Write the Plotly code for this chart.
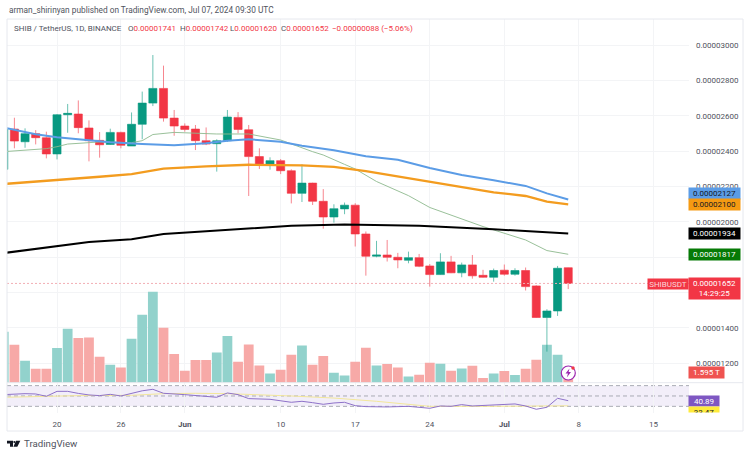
import pandas as pd
import plotly.graph_objects as go

W, H = 750, 455
SCALE = 1e-8
dates = pd.date_range("2024-05-15", "2024-07-07").strftime("%Y-%m-%d").tolist()

opens = [2298,2526,2454,2500,2477,2385,2607,2611,2532,2462,2439,2507,2430,2553,2673,2756,2588,
         2543,2526,2460,2443,2460,2592,2522,2370,2320,2347,2290,2162,2220,2117,2028,
         2074,2095,1932,1806,1813,1800,1783,1798,1751,1702,1774,1712,1757,1698,1687,
         1727,1704,1725,1638,1459,1496,1741]
highs = [2540,2590,2530,2520,2511,2611,2668,2688,2575,2509,2528,2511,2620,2738,2945,2885,2634,
         2558,2549,2535,2468,2634,2622,2549,2417,2366,2356,2298,2326,2222,2186,2100,
         2110,2106,1946,1893,1898,1825,1832,1819,1762,1823,1808,1770,1813,1729,1736,
         1759,1738,1742,1642,1506,1751,1742]
lows = [2290,2417,2420,2439,2360,2354,2505,2502,2343,2364,2436,2417,2430,2468,2656,2568,2488,
        2511,2407,2435,2285,2454,2502,2147,2300,2296,2271,2105,2113,2096,1962,1996,
        2044,1861,1696,1800,1776,1738,1766,1744,1634,1700,1710,1687,1679,1685,1662,
        1696,1696,1612,1457,1266,1468,1620]
closes = [2526,2458,2500,2477,2385,2607,2615,2534,2460,2437,2507,2434,2553,2673,2756,2588,2543,
          2524,2460,2441,2460,2594,2524,2370,2320,2347,2290,2162,2220,2117,2028,2075,
          2095,1932,1806,1813,1800,1785,1798,1749,1702,1774,1712,1757,1695,1687,1725,
          1704,1725,1634,1459,1496,1738,1652]
volumes = [7.75,5.78,3.34,2.13,2.13,5.27,8.21,6.79,6.89,3.95,2.74,2.33,6.69,10.34,13.83,8.36,4.36,
           1.82,3.45,3.45,4.61,7.10,3.19,5.82,2.63,1.41,1.98,4.26,5.67,2.74,4.06,1.52,
           1.11,3.19,5.32,2.63,2.84,2.33,0.96,1.22,3.04,2.89,1.82,2.17,2.58,0.71,1.41,
           1.78,1.17,2.13,3.50,5.78,4.26,1.595]

blue_d = ["05-15","05-18","05-20","05-23","05-25","05-28","05-31","06-03","06-05","06-07","06-10",
          "06-12","06-15","06-18","06-21","06-24","06-27","06-30","07-03","07-05","07-07"]
blue_v = [2535,2496,2479,2462,2451,2441,2434,2445,2460,2468,2454,2432,2406,2372,2352,2305,2266,2236,2204,2162,2127]
orange_d = ["05-15","05-20","05-24","05-27","05-30","06-03","06-07","06-12","06-15","06-18","06-21",
            "06-24","06-27","06-30","07-03","07-05","07-07"]
orange_v = [2215,2236,2256,2271,2302,2315,2324,2320,2312,2288,2258,2224,2195,2168,2147,2115,2100]
black_d = ["05-15","05-19","05-23","05-27","05-30","06-03","06-07","06-11","06-16","06-23","06-30","07-07"]
black_v = [1824,1856,1886,1902,1932,1947,1964,1979,1985,1978,1959,1934]
thin_d = ["05-15","05-19","05-20","05-21","05-24","05-27","05-28","05-29","05-31","06-04","06-07","06-10",
          "06-13","06-14","06-16","06-17","06-19","06-22","06-24","06-26","06-29","07-03","07-05","07-07"]
thin_v = [2398,2415,2426,2441,2453,2449,2460,2495,2507,2498,2498,2464,2398,2379,2326,2300,2229,2149,2082,2037,1974,1898,1838,1817]
rsi_d = ["05-15","05-17","05-18","05-19","05-20","05-21","05-22","05-23","05-24","05-25","05-26","05-27",
         "05-28","05-29","05-30","06-01","06-03","06-04","06-05","06-06","06-07","06-09","06-11","06-12",
         "06-13","06-14","06-15","06-16","06-17","06-18","06-20","06-22","06-24","06-25","06-26","06-27",
         "06-28","06-30","07-02","07-03","07-04","07-05","07-06","07-07"]
rsi_v = [52.6,54.5,53.9,49.4,59,59,55,52,50.7,53.2,50,55,60,62.9,55.2,52.6,48.7,47.5,55.8,52.6,44.9,43.6,37.8,39.7,
         37.1,33.9,36.5,37.8,31.3,29.4,28.8,30,26.2,30.7,30,33.3,30.7,33.3,34.6,30.7,24.3,28.1,45.5,40.89]
rsima_d = ["05-15","05-19","05-22","05-27","05-30","06-02","06-05","06-11","06-15","06-19","06-22","06-24","06-30","07-07"]
rsima_v = [47.4,50,50.7,51.3,54.5,55.2,54.5,50,46,39.7,33.3,30,30,31]

price_ticks = [1200,1400,1600,1800,2000,2200,2400,2600,2800,3000]
hidden_ticks = [1600,1800]  # covered by the price labels in the reference
date_ticks = ["2024-05-20","2024-05-26","2024-06-01","2024-06-10","2024-06-17","2024-06-24","2024-07-01","2024-07-08","2024-07-15"]
date_labels = ["20","26","<b>Jun</b>","10","17","24","<b>Jul</b>","8","15"]

RED, GREEN = "#F23645", "#089981"
VRED, VGREEN = "#F7A9A7", "#92D2CC"
GRID = "#F3F4F6"
FRAME = "#E6E8EE"
TXT = "#50535E"
FONT = "Roboto, sans-serif"
px = lambda x: x / W
py = lambda y: 1 - y / H
full = lambda d: "2024-" + d
sc = lambda vs: [v * SCALE for v in vs]

fig = go.Figure()
fig.add_bar(x=dates, y=volumes, yaxis="y", xaxis="x",
            marker=dict(color=[VGREEN if c >= o else VRED for o, c in zip(opens, closes)], line_width=0))
fig.add_candlestick(x=dates, open=sc(opens), high=sc(highs), low=sc(lows), close=sc(closes), yaxis="y2", xaxis="x",
                    increasing=dict(line=dict(color="rgba(8,153,129,0.6)", width=1), fillcolor=GREEN),
                    decreasing=dict(line=dict(color="rgba(242,54,69,0.6)", width=1), fillcolor=RED), whiskerwidth=0)
for ds, vs, col, w in [(thin_d, thin_v, "#8DB98D", 0.9), (black_d, black_v, "#000000", 2),
                       (orange_d, orange_v, "#F39C1F", 2.3), (blue_d, blue_v, "#5B9CE6", 2)]:
    fig.add_scatter(x=[full(d) for d in ds], y=sc(vs), yaxis="y2", xaxis="x", mode="lines", line=dict(color=col, width=w))
fig.add_scatter(x=[full(d) for d in rsima_d], y=rsima_v, yaxis="y3", xaxis="x2", mode="lines", line=dict(color="#F3E79B", width=1))
fig.add_scatter(x=[full(d) for d in rsi_d], y=rsi_v, yaxis="y3", xaxis="x2", mode="lines", line=dict(color="#8E72C9", width=1))

xr = ["2024-05-15 07:19", "2024-07-18 08:10"]
common_x = dict(range=xr, type="date", tickmode="array", tickvals=date_ticks, showgrid=True, gridcolor=GRID, gridwidth=1,
                zeroline=False, showline=False, ticks="", rangeslider=dict(visible=False))
shapes = []
shapes.append(dict(type="rect", xref="x2 domain", x0=0, x1=1, yref="y3", y0=30, y1=70, fillcolor="#7E57C2", opacity=0.1, line_width=0, layer="below"))
for lv in (70, 50, 30):
    shapes.append(dict(type="line", xref="x2 domain", x0=0, x1=1, yref="y3", y0=lv, y1=lv,
                       line=dict(color="#A9ABB4", width=1, dash="4px,3px"), layer="below"))
shapes.append(dict(type="line", xref="x domain", x0=0, x1=1, yref="y2", y0=closes[-1] * SCALE, y1=closes[-1] * SCALE,
                   line=dict(color="#F2AEB4", width=1, dash="2px,2px")))
for x0, y0, x1, y1 in [(7, 19, 743, 19), (7, 431, 743, 431), (7, 382.7, 743, 382.7), (7, 19, 7, 431), (743, 19, 743, 431)]:
    shapes.append(dict(type="line", xref="paper", yref="paper", x0=px(x0), x1=px(x1), y0=py(y0), y1=py(y1), line=dict(color=FRAME, width=1)))
shapes.append(dict(type="circle", xref="paper", yref="paper", x0=px(561.3), x1=px(575.3), y0=py(380), y1=py(366),
                   fillcolor="white", line=dict(color="#9C27B0", width=1.2)))
bolt = [(569.5, 368.5), (565.5, 373.5), (568, 373.5), (566.8, 377.5), (571, 372), (568.6, 372)]
shapes.append(dict(type="path", xref="paper", yref="paper", fillcolor="#9C27B0", line_width=0,
                   path="M" + " L".join(f"{px(a):.5f},{py(b):.5f}" for a, b in bolt) + " Z"))
shapes.append(dict(type="circle", xref="paper", yref="paper", x0=px(571.3), x1=px(574.7), y0=py(369.7), y1=py(366.3),
                   fillcolor=RED, line_width=0))
logo = [[(7, 440.8), (13, 440.8), (13, 446.8), (10, 446.8), (10, 443.6), (7, 443.6)],
        [(16, 440.8), (20.3, 440.8), (17.3, 446.8), (13.4, 446.8)]]
for poly in logo:
    shapes.append(dict(type="path", xref="paper", yref="paper", fillcolor="#131722", line_width=0,
                       path="M" + " L".join(f"{px(a):.5f},{py(b):.5f}" for a, b in poly) + " Z"))
shapes.append(dict(type="circle", xref="paper", yref="paper", x0=px(13.3), x1=px(15.3), y0=py(443), y1=py(441), fillcolor="#131722", line_width=0))

ann = []
def label(text, x0, x1, yc, h, bg, color="white", size=8):
    ann.append(dict(xref="paper", yref="paper", x=px((x0 + x1) / 2), y=py(yc), xanchor="center", yanchor="middle",
                    text=text, showarrow=False, bgcolor=bg, width=x1 - x0, height=h, align="center", valign="middle",
                    borderpad=0, font=dict(family=FONT, size=size, color=color)))
label("0.00002127", 689, 740, 193, 10.6, "#5B9CE6", "#131722")
label("0.00002100", 689, 740, 205, 11.4, "#F59A12", "#131722")
label("0.00001934", 689, 740, 234, 10.6, "#000000")
label("0.00001817", 689, 740, 254.8, 11, "#067A06")
label("0.00001652<br>14:29:25", 689, 740, 288.5, 20.6, RED)
label("SHIBUSDT", 648, 688, 284, 10, RED, "#FBD5D8")
label("1.595 T", 689, 724, 372, 10.6, "#EF5350")
label("40.89", 689, 719, 401, 10.4, "#7E57C2")
label("33.47", 689, 719, 412, 10.4, "#FFEB3B", "#131722")
label(" ", 685, 725, 418.5, 11, "#FFFFFF")

ann.append(dict(xref="paper", yref="paper", x=px(7), y=py(10), xanchor="left", yanchor="middle", showarrow=False,
                text="arman_shirinyan published on TradingView.com, Jul 07, 2024 09:30 UTC",
                font=dict(family=FONT, size=8.3, color="#50535E")))
def head(text, x, color):
    ann.append(dict(xref="paper", yref="paper", x=px(x), y=py(29), xanchor="left", yanchor="middle", showarrow=False,
                    text=text, font=dict(family=FONT, size=8, color=color)))
head("SHIB / TetherUS, 1D, BINANCE", 12, "#50535E")
for t, v, x in [("O", "0.00001741", 126), ("H", "0.00001742", 178), ("L", "0.00001620", 228), ("C", "0.00001652", 279)]:
    head(f"{t}<span style='color:{RED}'>{v}</span>", x, "#50535E")
head("−0.00000088 (−5.06%)", 330, RED)
ann.append(dict(xref="paper", yref="paper", x=px(22), y=py(443.5), xanchor="left", yanchor="middle", showarrow=False,
                text="TradingView", font=dict(family=FONT, size=9.7, color="#50535E")))

fig.update_layout(
    width=W, height=H, margin=dict(l=0, r=0, t=0, b=0), autosize=False, showlegend=False,
    paper_bgcolor="white", plot_bgcolor="white", bargap=0.08, boxgap=0.24, boxgroupgap=0,
    font=dict(family=FONT, size=8, color=TXT),
    xaxis=dict(domain=[px(7), px(689)], anchor="y", showticklabels=False, **common_x),
    xaxis2=dict(domain=[px(7), px(689)], anchor="y3", ticktext=date_labels, showticklabels=True,
                tickfont=dict(family=FONT, size=8, color=TXT), ticklabelstandoff=5, **common_x),
    yaxis=dict(domain=[py(382.7), py(19)], range=[0, 55.3], showgrid=False, showticklabels=False, zeroline=False, ticks=""),
    yaxis2=dict(domain=[py(382.7), py(19)], overlaying="y", side="right", anchor="x", range=[1090 * SCALE, 3149 * SCALE],
                tickmode="array", tickvals=sc(price_ticks),
                ticktext=["" if v in hidden_ticks else f"{v * SCALE:.8f}" for v in price_ticks],
                showgrid=True, gridcolor=GRID, zeroline=False, ticks="", ticklabelstandoff=6,
                tickfont=dict(family=FONT, size=8, color=TXT)),
    yaxis3=dict(domain=[py(413), py(383)], anchor="x2", range=[17.1, 75.1], showgrid=False, showticklabels=False, zeroline=False),
    shapes=shapes, annotations=ann,
)
fig.write_html("out.html", config=dict(displayModeBar=False),
               post_script="document.body.style.margin='0';document.documentElement.style.overflow='hidden';")
